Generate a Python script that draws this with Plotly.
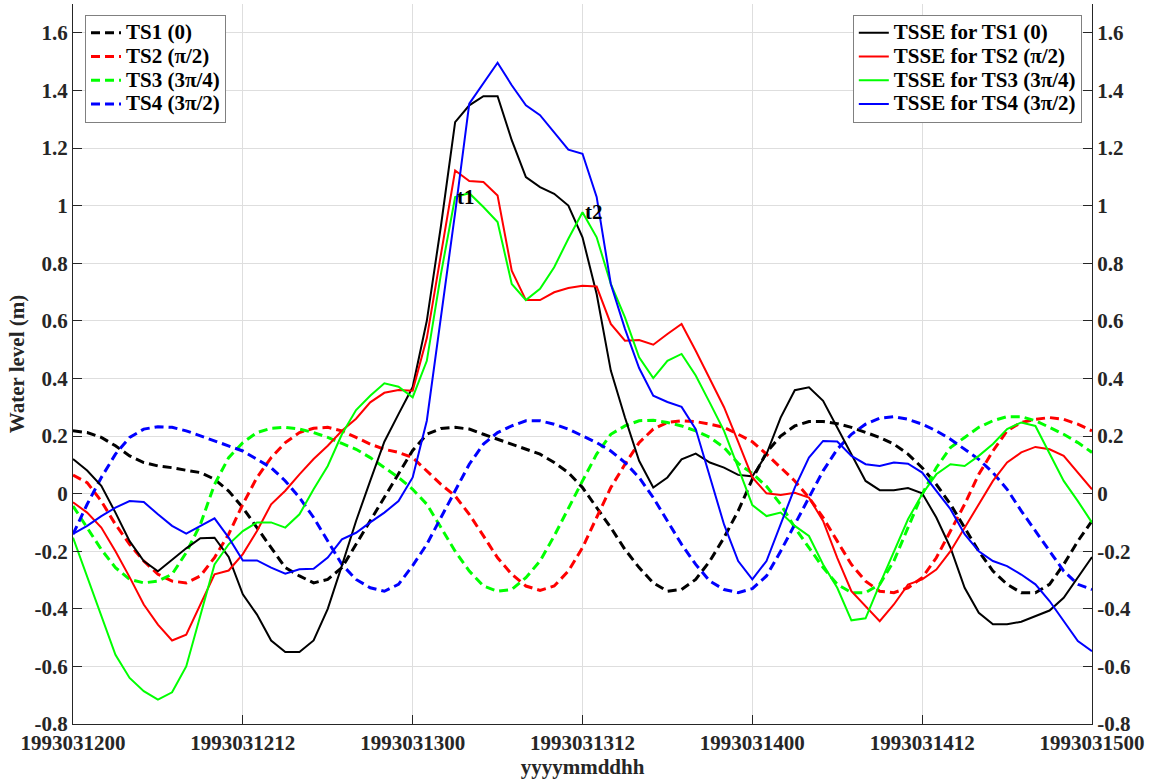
import plotly.graph_objects as go

hours = list(range(73))
x_tick_vals = [0, 12, 24, 36, 48, 60, 72]
x_tick_text = ["1993031200", "1993031212", "1993031300", "1993031312",
               "1993031400", "1993031412", "1993031500"]
y_tick_vals = [-0.8, -0.6, -0.4, -0.2, 0, 0.2, 0.4, 0.6, 0.8, 1.0, 1.2, 1.4, 1.6]
y_tick_text = ["-0.8", "-0.6", "-0.4", "-0.2", "0", "0.2", "0.4", "0.6", "0.8",
               "1", "1.2", "1.4", "1.6"]

ts1 = [0.218, 0.212, 0.195, 0.166, 0.131, 0.108, 0.096, 0.090, 0.081, 0.073,
       0.050, 0.009, -0.049, -0.118, -0.188, -0.257, -0.286, -0.310, -0.298, -0.257,
       -0.176, -0.095, -0.014, 0.067, 0.150, 0.206, 0.226, 0.230, 0.224, 0.206,
       0.189, 0.172, 0.154, 0.137, 0.108, 0.073, 0.021, -0.049, -0.118, -0.194,
       -0.257, -0.310, -0.339, -0.333, -0.298, -0.234, -0.153, -0.060, 0.050, 0.143,
       0.200, 0.235, 0.250, 0.250, 0.243, 0.230, 0.212, 0.195, 0.172, 0.137,
       0.090, 0.032, -0.037, -0.118, -0.200, -0.269, -0.315, -0.344, -0.344, -0.315,
       -0.246, -0.165, -0.095]

ts2 = [0.064, 0.038, -0.026, -0.107, -0.176, -0.234, -0.280, -0.304, -0.310, -0.286,
       -0.222, -0.141, -0.037, 0.056, 0.125, 0.177, 0.212, 0.227, 0.230, 0.218,
       0.195, 0.172, 0.154, 0.143, 0.125, 0.079, 0.032, -0.008, -0.072, -0.147,
       -0.223, -0.280, -0.321, -0.336, -0.321, -0.269, -0.188, -0.083, 0.021, 0.102,
       0.177, 0.224, 0.247, 0.253, 0.250, 0.241, 0.230, 0.206, 0.180, 0.137,
       0.090, 0.044, -0.014, -0.083, -0.165, -0.246, -0.304, -0.339, -0.344, -0.327,
       -0.292, -0.223, -0.130, -0.037, 0.067, 0.148, 0.218, 0.247, 0.258, 0.264,
       0.258, 0.241, 0.218]

ts3 = [-0.043, -0.118, -0.194, -0.257, -0.298, -0.310, -0.304, -0.280, -0.205, -0.107,
       0.032, 0.125, 0.177, 0.212, 0.227, 0.230, 0.224, 0.212, 0.195, 0.174,
       0.154, 0.125, 0.090, 0.056, 0.015, -0.037, -0.118, -0.200, -0.269, -0.321,
       -0.339, -0.333, -0.292, -0.234, -0.147, -0.049, 0.044, 0.137, 0.206, 0.235,
       0.253, 0.255, 0.247, 0.235, 0.218, 0.195, 0.160, 0.105, 0.070, 0.025,
       -0.037, -0.118, -0.188, -0.257, -0.315, -0.344, -0.344, -0.315, -0.234, -0.118,
       -0.002, 0.090, 0.160, 0.195, 0.230, 0.253, 0.267, 0.267, 0.253, 0.230,
       0.206, 0.177, 0.143]

ts4 = [-0.141, -0.037, 0.056, 0.137, 0.195, 0.224, 0.232, 0.230, 0.218, 0.200,
       0.183, 0.166, 0.148, 0.119, 0.090, 0.044, -0.014, -0.083, -0.165, -0.246,
       -0.298, -0.327, -0.339, -0.315, -0.250, -0.176, -0.083, 0.009, 0.102, 0.172,
       0.212, 0.235, 0.253, 0.253, 0.241, 0.224, 0.200, 0.177, 0.148, 0.108,
       0.056, -0.014, -0.095, -0.176, -0.246, -0.304, -0.333, -0.344, -0.330, -0.286,
       -0.200, -0.107, -0.014, 0.079, 0.154, 0.206, 0.241, 0.262, 0.267, 0.258,
       0.241, 0.218, 0.189, 0.154, 0.119, 0.073, 0.015, -0.060, -0.130, -0.200,
       -0.269, -0.315, -0.333]

tsse1 = [0.120, 0.080, 0.027, -0.066, -0.165, -0.234, -0.270, -0.230, -0.190, -0.155,
         -0.153, -0.220, -0.350, -0.420, -0.510, -0.550, -0.550, -0.510, -0.400, -0.250,
         -0.095, 0.044, 0.180, 0.276, 0.370, 0.600, 0.930, 1.290, 1.348, 1.380,
         1.380, 1.227, 1.099, 1.064, 1.041, 1.000, 0.890, 0.693, 0.427, 0.264,
         0.114, 0.021, 0.056, 0.119, 0.139, 0.108, 0.090, 0.065, 0.060, 0.137,
         0.264, 0.359, 0.369, 0.322, 0.230, 0.137, 0.044, 0.012, 0.012, 0.019,
         0.001, -0.083, -0.188, -0.327, -0.414, -0.454, -0.454, -0.445, -0.425, -0.406,
         -0.362, -0.292, -0.220]

tsse2 = [-0.030, -0.066, -0.118, -0.200, -0.290, -0.385, -0.455, -0.510, -0.490, -0.385,
         -0.280, -0.267, -0.210, -0.130, -0.037, 0.010, 0.067, 0.120, 0.166, 0.218,
         0.260, 0.317, 0.350, 0.360, 0.357, 0.540, 0.830, 1.122, 1.085, 1.082,
         1.035, 0.774, 0.672, 0.672, 0.699, 0.714, 0.722, 0.719, 0.589, 0.531,
         0.533, 0.517, 0.554, 0.589, 0.496, 0.400, 0.300, 0.180, 0.056, 0.001,
         -0.005, 0.003, -0.014, -0.095, -0.223, -0.339, -0.390, -0.443, -0.385, -0.316,
         -0.298, -0.264, -0.200, -0.118, -0.037, 0.044, 0.108, 0.143, 0.162, 0.154,
         0.131, 0.073, 0.015]

tsse3 = [-0.153, -0.290, -0.430, -0.560, -0.640, -0.686, -0.715, -0.690, -0.600, -0.420,
         -0.246, -0.176, -0.130, -0.100, -0.100, -0.118, -0.072, 0.015, 0.096, 0.206,
         0.290, 0.340, 0.383, 0.371, 0.334, 0.461, 0.763, 1.030, 1.043, 0.995,
         0.943, 0.728, 0.672, 0.711, 0.786, 0.885, 0.977, 0.890, 0.728, 0.612,
         0.473, 0.401, 0.461, 0.485, 0.410, 0.315, 0.218, 0.090, -0.040, -0.078,
         -0.066, -0.112, -0.147, -0.246, -0.327, -0.440, -0.433, -0.315, -0.200, -0.089,
         -0.002, 0.067, 0.102, 0.096, 0.131, 0.172, 0.224, 0.247, 0.235, 0.137,
         0.044, -0.026, -0.101]

tsse4 = [-0.140, -0.112, -0.078, -0.049, -0.026, -0.029, -0.072, -0.112, -0.139, -0.112,
         -0.086, -0.153, -0.232, -0.232, -0.257, -0.278, -0.263, -0.261, -0.222, -0.159,
         -0.136, -0.100, -0.066, -0.026, 0.056, 0.253, 0.609, 0.975, 1.354, 1.426,
         1.496, 1.418, 1.348, 1.314, 1.256, 1.194, 1.180, 1.030, 0.728, 0.572,
         0.436, 0.340, 0.318, 0.301, 0.224, 0.056, -0.107, -0.234, -0.298, -0.234,
         -0.107, 0.021, 0.125, 0.183, 0.181, 0.131, 0.102, 0.096, 0.108, 0.104,
         0.073, 0.009, -0.054, -0.141, -0.200, -0.234, -0.252, -0.281, -0.315, -0.373,
         -0.443, -0.512, -0.547]

ts_names = ["TS1 (0)", "TS2 (π/2)", "TS3 (3π/4)", "TS4 (3π/2)"]
tsse_names = ["TSSE for TS1 (0)", "TSSE for TS2 (π/2)", "TSSE for TS3 (3π/4)",
              "TSSE for TS4 (3π/2)"]
colors = ["#000000", "#ff0000", "#00ff00", "#0000ff"]

FONT = '"Liberation Serif", "Times New Roman", serif'
TXT = "#262626"


def leg_label(s):
    # full-size text inside a tighter legend row
    return '<span style="font-size:21px">' + s + '</span>'


fig = go.Figure()
for name, ys, c in zip(ts_names, [ts1, ts2, ts3, ts4], colors):
    fig.add_trace(go.Scatter(x=hours, y=ys, mode="lines", name=leg_label(name),
                             line=dict(color=c, width=3, dash="9px,5px"),
                             legend="legend", yaxis="y"))
for name, ys, c in zip(tsse_names, [tsse1, tsse2, tsse3, tsse4], colors):
    fig.add_trace(go.Scatter(x=hours, y=ys, mode="lines", name=leg_label(name),
                             line=dict(color=c, width=2),
                             legend="legend2", yaxis="y2"))

for lbl, h in (("t1", 27), ("t2", 36)):
    fig.add_annotation(x=h, y=tsse3[h], xref="x", yref="y", text=lbl,
                       showarrow=False, xanchor="left", yanchor="middle",
                       font=dict(family=FONT, size=21, color="black", weight="bold"))

tickfont = dict(family=FONT, size=21, color=TXT, weight="bold")
legfont = dict(family=FONT, size=16, color="black", weight="bold")
yr = [-0.8, 1.7]
fig.update_layout(
    width=1151, height=783,
    margin=dict(l=73, r=59, t=4, b=59),
    paper_bgcolor="white", plot_bgcolor="white",
    showlegend=True,
    xaxis=dict(range=[0, 72], tickvals=x_tick_vals, ticktext=x_tick_text,
               tickfont=tickfont, ticks="inside", ticklen=9, tickcolor=TXT,
               showline=True, linecolor=TXT, linewidth=1,
               showgrid=True, gridcolor="#dedede", gridwidth=1, zeroline=False,
               title=dict(text="yyyymmddhh", standoff=4,
                          font=dict(family=FONT, size=21, color=TXT, weight="bold"))),
    yaxis=dict(range=yr, tickvals=y_tick_vals, ticktext=y_tick_text,
               tickfont=tickfont, ticks="inside", ticklen=9, tickcolor=TXT,
               showline=True, linecolor=TXT, linewidth=1,
               showgrid=True, gridcolor="#dedede", gridwidth=1, zeroline=False,
               title=dict(text="Water level (m)", standoff=4,
                          font=dict(family=FONT, size=21, color=TXT, weight="bold"))),
    yaxis2=dict(range=yr, tickvals=y_tick_vals, ticktext=y_tick_text,
                overlaying="y", side="right", anchor="x",
                tickfont=tickfont, ticks="inside", ticklen=9, tickcolor=TXT,
                showline=True, linecolor=TXT, linewidth=1,
                showgrid=False, zeroline=False),
    legend=dict(x=0.0118, y=0.985, xanchor="left", yanchor="top",
                bgcolor="white", bordercolor="#808080", borderwidth=1,
                font=legfont, tracegroupgap=0, itemwidth=30),
    legend2=dict(x=0.990, y=0.985, xanchor="right", yanchor="top",
                 bgcolor="white", bordercolor="#808080", borderwidth=1,
                 font=legfont, tracegroupgap=0, itemwidth=30),
)

fig.write_html("out.html")
